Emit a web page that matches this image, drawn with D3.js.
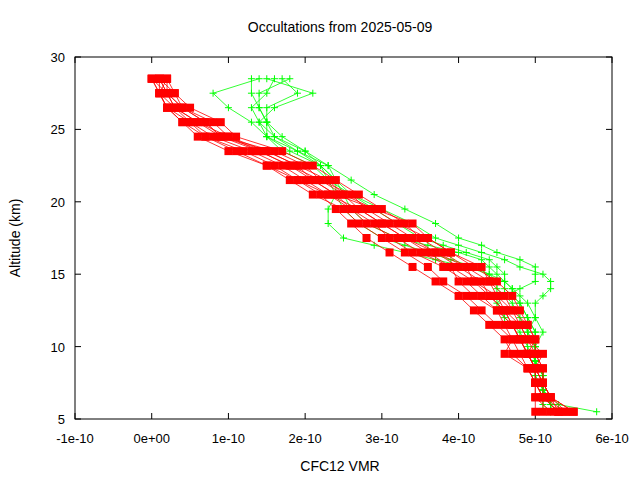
<!DOCTYPE html>
<html><head><meta charset="utf-8">
<script src="https://cdn.jsdelivr.net/npm/d3@7"></script>
<style>body{margin:0;background:#fff}text{font-family:"Liberation Sans",Arial,sans-serif}</style>
</head><body><svg id="c" width="640" height="480"></svg>
<script>
const xTicks=[-1,0,1,2,3,4,5,6];
const xTickLabels=["-1e-10","0e+00","1e-10","2e-10","3e-10","4e-10","5e-10","6e-10"];
const yTicks=[5,10,15,20,25,30];
const redAlt=[28.5,27.5,26.5,25.5,24.5,23.5,22.5,21.5,20.5,19.5,18.5,17.5,16.5,15.5,14.5,13.5,12.5,11.5,10.5,9.5,8.5,7.5,6.5,5.5];
const red1=[0.0,0.1,0.2,0.5,0.7,1.2,1.6,1.9,2.2,2.4,2.6,2.8,3.1,3.4,3.7,4.0,4.2,4.4,4.6,4.7,4.9,5.0,5.1,5.1];
const red2=[0.1,0.2,0.3,0.6,0.9,1.4,1.8,2.1,2.4,2.6,2.9,3.1,3.4,3.8,4.1,4.3,4.5,4.7,4.8,4.9,5.0,5.0,5.0,5.0];
const red3=[0.2,0.3,0.4,0.8,1.0,1.5,1.9,2.3,2.5,2.7,3.0,3.3,3.6,3.9,4.2,4.5,4.6,4.7,4.8,4.9,5.0,5.1,5.2,5.3];
const red4=[0.1,0.1,0.2,0.4,0.6,1.0,1.5,1.8,2.1,2.5,2.7,3.0,3.3,3.6,3.8,4.1,4.3,4.5,4.7,4.6,4.9,5.0,5.1,5.4];
const red5=[0.2,0.2,0.4,0.7,0.9,1.6,2.0,2.2,2.6,2.8,3.1,3.4,3.7,4.0,4.3,4.4,4.6,4.8,4.9,5.1,5.0,5.1,5.2,5.5];
const red6=[0.0,0.2,0.3,0.5,0.8,1.3,1.7,2.0,2.3,2.6,2.8,3.2,3.5,3.9,4.0,4.2,4.5,4.6,4.7,4.8,4.9,5.0,5.0,5.2];
const red7=[0.1,0.3,0.5,0.9,1.1,1.7,2.1,2.4,2.7,3.0,3.3,3.5,3.8,4.1,4.4,4.6,4.7,4.9,5.0,5.0,5.1,5.1,5.2,5.4];
const red8=[0.2,0.1,0.3,0.6,1.0,1.4,1.8,2.2,2.5,2.9,3.2,3.6,3.9,4.2,4.5,4.7,4.8,4.9,5.0,4.9,5.0,5.1,5.1,5.3];
const red9=[0.0,0.1,0.2,0.4,0.7,1.1,1.5,1.9,2.3,2.7,3.0,3.3,3.7,4.1,4.2,4.4,4.6,4.7,4.8,4.9,5.0,5.0,5.1,5.3];
const red10=[0.1,0.2,0.4,0.7,0.9,1.5,1.9,2.1,2.4,2.9,3.4,3.6,3.9,4.3,4.4,4.5,4.7,4.8,4.9,5.0,5.1,5.1,5.2,5.5];
const greenAlt=[28.5,27.5,26.5,25.5,24.5,23.5,22.5,21.5,20.5,19.5,18.5,17.5,17,16.5,16,15.5,15,14.5,14,13.5,13,12,11,10,9,8,7,6,5.5];
const green1=[1.3,1.3,1.4,1.5,1.6,1.9,2.2,2.4,2.4,2.3,2.3,2.5,2.9,3.3,3.7,4.1,4.4,4.6,4.7,4.7,4.8,4.9,5.0,5.0,5.0,5.0,5.1,5.2,5.3];
const green2=[1.8,1.4,1.4,1.5,1.5,1.7,2.1,2.3,2.4,2.5,2.7,3.0,3.3,3.6,3.9,4.2,4.4,4.5,4.5,4.6,4.7,4.8,4.9,5.0,5.0,5.1,5.1,5.3,5.8];
const green3=[1.5,2.1,1.6,1.4,1.5,1.8,2.2,2.4,2.6,2.9,3.2,3.5,3.8,4.1,4.4,4.5,4.6,4.6,4.6,4.7,4.8,4.9,5.0,5.0,5.0,5.1,5.1,5.2,5.2];
const green4=[1.4,0.8,1.0,1.3,1.5,1.9,2.3,2.6,2.9,3.3,3.7,4.0,4.3,4.5,4.8,5.0,5.0,5.0,4.8,4.6,4.5,4.6,4.8,4.9,5.0,5.0,5.1,5.1,5.2];
const green5=[1.6,1.5,1.3,1.4,1.6,2.0,2.3,2.4,2.5,2.6,2.8,3.2,3.6,4.0,4.3,4.4,4.5,4.6,4.7,4.8,4.9,5.0,5.1,5.0,5.0,5.1,5.1,5.2,5.2];
const green6=[1.7,1.9,1.5,1.5,1.7,2.0,2.2,2.3,2.6,3.0,3.4,3.7,4.0,4.3,4.6,4.8,5.1,5.2,5.2,5.1,5.0,5.0,4.9,5.0,5.0,5.1,5.1,5.2,5.3];
const redSeries=[red1,red2,red3,red4,red5,red6,red7,red8,red9,red10];
const greenSeries=[green1,green2,green3,green4,green5,green6];

const svg=d3.select("#c");
const L=75,R=612,T=57,B=419;
const x=d3.scaleLinear().domain([-1,6]).range([L,R]);
const y=d3.scaleLinear().domain([5,30]).range([B,T]);
const g=svg.append("g");
// ticks
xTicks.forEach((t,i)=>{
  g.append("line").attr("x1",x(t)).attr("x2",x(t)).attr("y1",B).attr("y2",B-6).attr("stroke","#000");
  g.append("line").attr("x1",x(t)).attr("x2",x(t)).attr("y1",T).attr("y2",T+6).attr("stroke","#000");
  g.append("text").attr("x",x(t)).attr("y",B+24).attr("text-anchor","middle").attr("font-size",13).text(xTickLabels[i]);
});
yTicks.forEach(t=>{
  g.append("line").attr("x1",L).attr("x2",L+6).attr("y1",y(t)).attr("y2",y(t)).attr("stroke","#000");
  g.append("line").attr("x1",R).attr("x2",R-6).attr("y1",y(t)).attr("y2",y(t)).attr("stroke","#000");
  g.append("text").attr("x",L-10).attr("y",y(t)+5).attr("text-anchor","end").attr("font-size",13).text(t);
});
const line=d3.line();
greenSeries.forEach(s=>{
  const pts=s.map((v,i)=>[x(v),y(greenAlt[i])]);
  g.append("path").attr("d",line(pts)).attr("fill","none").attr("stroke","#00ff00").attr("stroke-width",0.8);
  pts.forEach(p=>{
    g.append("path").attr("d",`M${p[0]-3.5},${p[1]}h7M${p[0]},${p[1]-3.5}v7`).attr("stroke","#00ff00").attr("stroke-width",1);
  });
});
redSeries.forEach(s=>{
  const pts=s.map((v,i)=>[x(v),y(redAlt[i])]);
  g.append("path").attr("d",line(pts)).attr("fill","none").attr("stroke","#ff0000").attr("stroke-width",0.8);
  pts.forEach(p=>{
    g.append("rect").attr("x",p[0]-4).attr("y",p[1]-4).attr("width",8).attr("height",8).attr("fill","#ff0000");
  });
});
g.append("rect").attr("x",L).attr("y",T).attr("width",R-L).attr("height",B-T).attr("fill","none").attr("stroke","#000");
svg.append("text").attr("x",340).attr("y",32).attr("text-anchor","middle").attr("font-size",14).text("Occultations from 2025-05-09");
svg.append("text").attr("x",340).attr("y",471).attr("text-anchor","middle").attr("font-size",14).text("CFC12 VMR");
svg.append("text").attr("transform","translate(20,238) rotate(-90)").attr("text-anchor","middle").attr("font-size",14).text("Altitude (km)");
</script></body></html>
